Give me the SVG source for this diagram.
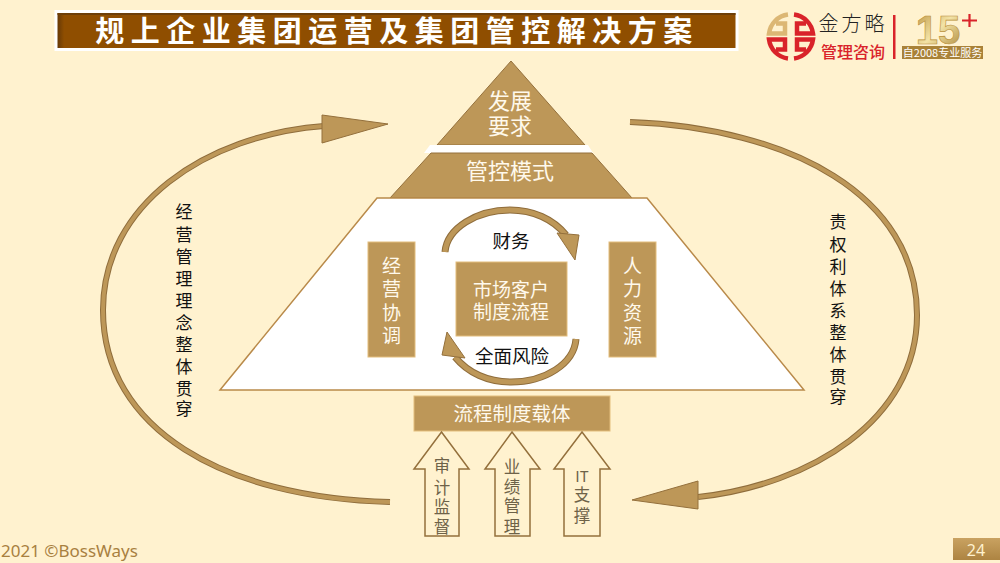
<svg xmlns="http://www.w3.org/2000/svg" width="1000" height="563" viewBox="0 0 1000 563">
<style>
text{font-family:"Noto Sans CJK SC","Liberation Sans",sans-serif;text-anchor:middle}
.box{fill:#bd9758;stroke:#e3bd7c;stroke-width:1}
.tri{fill:#bd9758;stroke:#94703c;stroke-width:1}
.w{fill:#fff9ec;font-size:22px}
.w2{fill:#fff9ec;font-size:19px}
.w3{fill:#fff9ec;font-size:19.500px}
.k{fill:#111;font-size:18.500px}
.v{fill:#111;font-size:17px}
.g{fill:#6e6248;font-size:16.500px}
.up{fill:#fff2cf;stroke:#94703c;stroke-width:1.500}
.arcO{fill:none;stroke:#8f6d3c;stroke-width:6}
.arcI{fill:none;stroke:#bd9758;stroke-width:4}
.cyO{fill:none;stroke:#8f6d3c;stroke-width:7}
.cyI{fill:none;stroke:#bd9758;stroke-width:5}
</style>
<defs>
<linearGradient id="ttl" x1="0" x2="1" y1="0" y2="0"><stop offset="0" stop-color="#5e3508"/><stop offset=".012" stop-color="#8f4e00"/><stop offset="1" stop-color="#8f4e00"/></linearGradient>
<linearGradient id="gold" x1="0" x2="1" y1="0" y2="1"><stop offset="0" stop-color="#b98f3a"/><stop offset=".5" stop-color="#f3e3a6"/><stop offset="1" stop-color="#a88232"/></linearGradient>
<linearGradient id="pg" x1="0" x2="0" y1="0" y2="1"><stop offset="0" stop-color="#c9a261"/><stop offset="1" stop-color="#ad8442"/></linearGradient>
<path id="q" d="M3 -22A22 22 0 0 1 22 -3H6V-13H15" fill="none" stroke-width="4.500"/>
</defs>
<rect width="1000" height="563" fill="#fff2cf"/>
<g id="title">
<rect x="56" y="11.500" width="681" height="38" fill="url(#ttl)" stroke="#fff" stroke-width="3"/>
<rect x="57.500" y="13" width="678" height="2" fill="#6e3f08"/>
<text x="397" y="42" font-size="29" font-weight="700" letter-spacing="6.500" fill="#fff">规上企业集团运营及集团管控解决方案</text>
</g>
<g id="logo">
<g transform="translate(791 36.500)">
<use href="#q" stroke="#d9232a"/>
<use href="#q" stroke="#d9232a" transform="scale(1 -1)"/>
<use href="#q" stroke="#d9232a" transform="scale(-1 -1)"/>
<use href="#q" stroke="#dcb774" transform="scale(-1 1)"/>
</g>
<text x="853" y="31" font-size="20" font-weight="300" fill="#222" letter-spacing="3" style="font-family:'Noto Sans CJK JP',sans-serif">金方略</text>
<text x="853" y="58" font-size="16" font-weight="500" fill="#d9232a">管理咨询</text>
<rect x="893" y="15" width="2.500" height="44" fill="#d9232a"/>
<text x="938" y="44" font-size="40" font-weight="700" fill="url(#gold)" stroke="#b98f3a" stroke-width=".6" style="font-family:'Liberation Sans',sans-serif">15</text>
<path d="M962 20.500H977M969.500 14V27" stroke="#d9232a" stroke-width="2.200" fill="none"/>
<rect x="902" y="46" width="81" height="13" fill="#a98238"/>
<text x="942.500" y="57" font-size="11" fill="#fff">自2008专业服务</text>
</g>
<g id="connectors">
<path class="arcO" d="M390 502C225 498 103 430 103 310C103 205 205 135 324 126"/>
<path class="arcI" d="M390 502C225 498 103 430 103 310C103 205 205 135 324 126"/>
<polygon class="tri" points="322,115 388,124 322,143"/>
<path class="arcO" d="M630 122C790 128 917 195 917 315C917 420 810 485 698 497"/>
<path class="arcI" d="M630 122C790 128 917 195 917 315C917 420 810 485 698 497"/>
<polygon class="tri" points="698,481 632,500 698,509"/>
</g>
<g id="pyramid-top">
<polygon class="tri" points="511,61 585,145 437,145"/>
<text class="w" x="510"><tspan x="510" y="109">发展</tspan><tspan x="510" y="134">要求</tspan></text>
</g>
<g id="pyramid-band"><polygon points="430,145 588,145 593,153 424,153" fill="#fff"/></g>
<g id="pyramid-mid">
<polygon class="tri" points="431,153 592,153 632,198 390,198"/>
<text class="w" x="510" y="179">管控模式</text>
</g>
<g id="pyramid-base">
<polygon points="377,198 647,198 804,390 220,390" fill="#fff" stroke="#b98a4a" stroke-width="1.500"/>
</g>
<g id="node-jyxt">
<rect class="box" x="368" y="242" width="47" height="115"/>
<text class="w2"><tspan x="391.500" y="273">经</tspan><tspan x="391.500" y="296">营</tspan><tspan x="391.500" y="320">协</tspan><tspan x="391.500" y="343">调</tspan></text>
</g>
<g id="node-rlzy">
<rect class="box" x="609" y="242" width="47" height="115"/>
<text class="w2"><tspan x="632.500" y="273">人</tspan><tspan x="632.500" y="296">力</tspan><tspan x="632.500" y="320">资</tspan><tspan x="632.500" y="343">源</tspan></text>
</g>
<g id="node-center">
<rect class="box" x="456" y="262" width="111" height="74"/>
<text class="w2"><tspan x="511" y="297">市场客户</tspan><tspan x="511" y="319">制度流程</tspan></text>
</g>
<g id="cycle">
<path class="cyO" d="M445 252C447 228 477 210 510 210C533 210 553 219 566 235"/>
<path class="cyI" d="M445 252C447 228 477 210 510 210C533 210 553 219 566 235"/>
<polygon class="tri" points="557,233 579,235 575,260"/>
<path class="cyO" d="M576 339C574 364 545 382 511 382C488 382 468 373 455 357"/>
<path class="cyI" d="M576 339C574 364 545 382 511 382C488 382 468 373 455 357"/>
<polygon class="tri" points="465,358 442,355 447,332"/>
<text class="k" x="511" y="248">财务</text>
<text class="k" x="512" y="363">全面风险</text>
</g>
<g id="node-carrier">
<rect class="box" x="414" y="396" width="196" height="35"/>
<text class="w3" x="512" y="421">流程制度载体</text>
</g>
<g id="arrow-audit">
<polygon class="up" points="441.500,432 469,469 459,469 459,536 425,536 425,469 414,469"/>
<text class="g"><tspan x="442" y="472">审</tspan><tspan x="442" y="494">计</tspan><tspan x="442" y="513">监</tspan><tspan x="442" y="533">督</tspan></text>
</g>
<g id="arrow-perf">
<polygon class="up" points="512,432 540,469 530,469 530,536 495,536 495,469 485,469"/>
<text class="g"><tspan x="512" y="473">业</tspan><tspan x="512" y="493">绩</tspan><tspan x="512" y="512">管</tspan><tspan x="512" y="533">理</tspan></text>
</g>
<g id="arrow-it">
<polygon class="up" points="582,432 610,469 600,469 600,536 564,536 564,469 554,469"/>
<text class="g"><tspan x="582" y="482" font-size="15">IT</tspan><tspan x="582" y="501">支</tspan><tspan x="582" y="522">撑</tspan></text>
</g>
<g id="label-left">
<text class="v"><tspan x="184" y="218">经</tspan><tspan x="184" y="241">营</tspan><tspan x="184" y="263">管</tspan><tspan x="184" y="285">理</tspan><tspan x="184" y="307">理</tspan><tspan x="184" y="329">念</tspan><tspan x="184" y="351">整</tspan><tspan x="184" y="373">体</tspan><tspan x="184" y="395">贯</tspan><tspan x="184" y="415">穿</tspan></text>
</g>
<g id="label-right">
<text class="v"><tspan x="838" y="228">责</tspan><tspan x="838" y="251">权</tspan><tspan x="838" y="273">利</tspan><tspan x="838" y="295">体</tspan><tspan x="838" y="317">系</tspan><tspan x="838" y="339">整</tspan><tspan x="838" y="361">体</tspan><tspan x="838" y="383">贯</tspan><tspan x="838" y="403">穿</tspan></text>
</g>
<g id="footer">
<text x="1" y="557" font-size="17" fill="#a8803f" style="text-anchor:start;font-family:'Noto Sans',sans-serif">2021 ©BossWays</text>
<rect x="953" y="538" width="47" height="22" fill="url(#pg)"/>
<text x="976" y="556" font-size="16" fill="#fff2cf" style="font-family:'Noto Sans',sans-serif">24</text>
</g>
</svg>
